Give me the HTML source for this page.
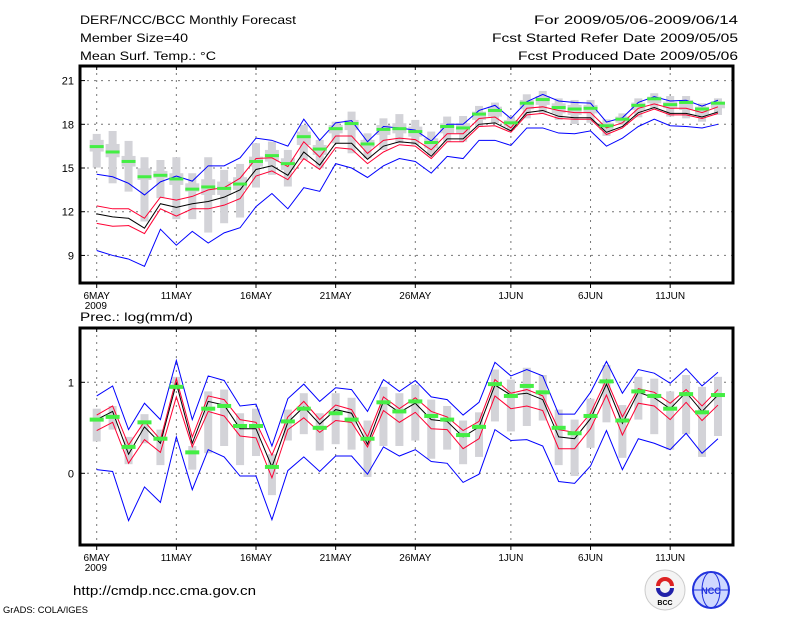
<!DOCTYPE html>
<html><head><meta charset="utf-8"><style>
body{margin:0;background:#fff;}
svg{display:block;font-family:"Liberation Sans",sans-serif;}
</style></head><body>
<svg id="chart" width="800" height="618" viewBox="0 0 800 618">
<g font-size="12" fill="#000">
<text x="80" y="24" textLength="216" lengthAdjust="spacingAndGlyphs">DERF/NCC/BCC Monthly Forecast</text>
<text x="80" y="42" textLength="108" lengthAdjust="spacingAndGlyphs">Member Size=40</text>
<text x="80" y="60" textLength="136" lengthAdjust="spacingAndGlyphs">Mean Surf. Temp.: °C</text>
<text x="738" y="24" text-anchor="end" textLength="204" lengthAdjust="spacingAndGlyphs">For 2009/05/06-2009/06/14</text>
<text x="738" y="42" text-anchor="end" textLength="246" lengthAdjust="spacingAndGlyphs">Fcst Started Refer Date 2009/05/05</text>
<text x="738" y="60" text-anchor="end" textLength="220" lengthAdjust="spacingAndGlyphs">Fcst Produced Date 2009/05/06</text>
<text x="80" y="321" font-size="12" textLength="113" lengthAdjust="spacingAndGlyphs">Prec.: log(mm/d)</text>
<text x="73" y="595" font-size="13" textLength="183" lengthAdjust="spacingAndGlyphs">http://cmdp.ncc.cma.gov.cn</text>
<text x="3" y="613" font-size="9" textLength="85" lengthAdjust="spacingAndGlyphs">GrADS: COLA/IGES</text>
</g>
<g>
<circle cx="665" cy="590" r="20" fill="#f4f4f4" stroke="#ccc"/>
<path d="M658 586 a7 7 0 1 1 14 0" fill="none" stroke="#d22" stroke-width="4"/>
<path d="M672 588 a7 7 0 1 1 -14 0" fill="none" stroke="#22a" stroke-width="4"/>
<text x="665" y="605" font-size="7" text-anchor="middle" font-weight="bold">BCC</text>
</g>
<g>
<circle cx="711" cy="590" r="18" fill="#cfd8ff" stroke="#2233dd" stroke-width="2"/>
<ellipse cx="711" cy="590" rx="9" ry="18" fill="none" stroke="#2233dd"/>
<line x1="693" y1="590" x2="729" y2="590" stroke="#2233dd"/>
<text x="711" y="594" font-size="9" text-anchor="middle" fill="#2233dd" font-weight="bold">NCC</text>
</g>
<g id="top"></g>
<g id="bot"></g>
</svg>
<script>
// ---- top panel data (temperature, °C) ----
const tBlueHi=[14.57,14.4,13.95,13.15,14.05,14.45,14.1,15.15,15.15,15.7,17.05,16.9,16.5,18.35,16.9,18.1,18.25,16.8,17.85,17.75,17.6,16.85,18.0,18.0,18.95,19.3,18.4,19.55,20.05,19.6,19.5,19.45,18.15,18.45,19.5,19.9,19.6,19.65,19.25,19.65];
const tRedHi=[12.4,12.2,12.2,11.55,13.0,12.8,13.05,13.5,13.65,14.3,15.65,15.7,15.1,16.8,15.75,17.2,17.2,16.0,16.9,17.05,16.95,16.25,17.35,17.35,18.4,18.5,17.75,19.1,19.2,18.95,18.8,18.8,17.75,18.1,19.1,19.4,19.1,19.1,18.8,19.2];
const tMean=[11.85,11.65,11.55,10.87,12.55,12.3,12.55,12.7,13.0,13.5,14.9,15.15,14.5,16.1,15.2,16.7,16.7,15.6,16.5,16.8,16.7,15.8,17.0,17.0,18.0,18.1,17.55,18.8,18.95,18.55,18.45,18.45,17.45,17.85,18.8,19.15,18.75,18.75,18.5,18.85];
const tRedLo=[11.2,11.0,11.05,10.5,12.2,11.7,12.2,12.2,12.45,12.9,14.45,14.8,14.2,15.65,14.9,16.4,16.3,15.3,16.1,16.6,16.5,15.65,16.8,16.8,17.85,17.9,17.45,18.65,18.75,18.4,18.35,18.35,17.3,17.75,18.65,19.05,18.65,18.65,18.4,18.75];
const tBlueLo=[9.34,9.0,8.75,8.25,10.8,9.7,10.65,9.85,10.55,10.9,12.35,13.25,12.2,13.65,13.4,15.3,15.0,14.35,15.15,15.65,15.45,14.65,15.8,15.65,16.9,16.9,16.55,17.75,17.75,17.4,17.35,17.55,16.5,17.05,17.85,18.35,17.9,17.85,17.75,18.0];
const tMedian=[16.47,16.1,15.45,14.4,14.5,14.25,13.55,13.7,13.6,13.9,15.45,15.85,15.3,17.15,16.3,17.7,18.05,16.65,17.65,17.7,17.5,16.75,17.85,17.75,18.7,18.95,18.1,19.45,19.7,19.15,19.05,19.1,17.9,18.35,19.3,19.75,19.35,19.5,19.05,19.45];
const tWhiskHi=[17.34,17.54,16.86,15.74,15.55,15.74,14.64,15.74,14.87,15.28,16.7,16.81,16.24,17.95,16.93,18.18,18.87,17.38,18.41,18.7,18.3,17.5,18.53,18.57,19.26,19.49,18.53,20.06,20.29,19.78,19.67,19.67,18.34,18.75,19.78,20.13,19.94,19.94,19.44,19.78];
const tWhiskLo=[15.03,13.95,13.38,11.33,12.93,11.49,11.49,10.57,11.21,11.6,13.66,14.53,13.73,15.55,14.98,16.7,16.01,15.67,16.24,16.7,16.58,15.9,16.81,16.81,17.84,18.07,17.61,18.41,18.75,18.3,18.02,18.11,17.2,17.95,18.48,19.1,18.53,18.41,18.18,18.64];
const tBoxHi=[16.93,16.65,15.83,14.98,14.8,14.64,13.95,14.23,14.07,14.37,15.78,16.24,15.67,17.5,16.58,17.95,18.3,16.93,17.95,18.07,17.84,17.04,18.07,18.07,18.87,19.21,18.3,19.67,19.94,19.44,19.33,19.33,18.11,18.53,19.49,19.9,19.55,19.67,19.21,19.55];
const tBoxLo=[16.13,15.74,15.1,14.18,14.3,13.84,13.38,13.15,13.15,13.5,15.1,15.44,14.87,16.58,15.9,17.38,17.6,16.42,17.27,17.38,17.15,16.35,17.38,17.38,18.3,18.53,17.84,19.03,19.33,18.75,18.64,18.75,17.61,18.11,18.98,19.44,19.1,18.98,18.64,19.1];
const tYTicks=[9,12,15,18,21];
// ---- bottom panel data (log precip) ----
const pBlueHi=[.85,.96,.48,.77,.59,1.24,.59,1.07,1.02,.74,.76,.30,.82,.98,.79,.94,.92,.68,1.03,.90,1.02,.84,.81,.64,.78,1.22,1.07,1.14,1.07,.65,.65,.89,1.23,.88,1.14,1.10,.99,1.15,.96,1.11];
const pRedHi=[.64,.74,.31,.57,.37,1.04,.40,.85,.81,.59,.56,.20,.62,.79,.59,.75,.70,.40,.84,.71,.83,.68,.62,.47,.57,1.03,.88,.92,.85,.48,.45,.66,1.03,.62,.93,.89,.77,.92,.74,.92];
const pMean=[.59,.68,.21,.51,.33,.99,.33,.79,.75,.49,.49,.07,.56,.73,.54,.70,.66,.32,.79,.67,.77,.59,.57,.40,.51,.97,.86,.88,.81,.40,.38,.60,.98,.55,.89,.83,.71,.89,.68,.86];
const pRedLo=[.47,.56,.11,.37,.23,.84,.29,.68,.63,.41,.39,-.05,.48,.61,.45,.58,.56,.29,.69,.56,.67,.49,.48,.27,.38,.85,.71,.74,.69,.27,.27,.49,.86,.42,.77,.74,.59,.78,.58,.75];
const pBlueLo=[.04,.02,-.52,-.15,-.32,.40,-.18,.26,.18,-.03,-.03,-.51,.03,.18,.02,.19,.19,-.01,.29,.19,.26,.13,.11,-.10,-.01,.48,.36,.37,.30,-.09,-.11,.08,.47,.04,.38,.33,.26,.44,.22,.38];
const pMedian=[.59,.62,.29,.56,.38,.95,.23,.71,.74,.52,.52,.07,.57,.71,.50,.66,.59,.38,.78,.68,.79,.63,.59,.42,.51,.98,.85,.96,.89,.50,.44,.63,1.01,.58,.90,.85,.71,.87,.67,.86];
const pBarHi=[.71,.74,.40,.65,.48,1.06,.30,.90,.92,.66,.71,.21,.70,.88,.66,.88,.83,.58,.95,.88,.97,.81,.74,.58,.67,1.14,1.03,1.16,1.08,.70,.59,.82,1.19,.75,1.06,1.04,.90,1.08,.95,1.06];
const pBarLo=[.35,.48,.10,.33,.09,.92,.04,.22,.30,.09,.19,-.24,.36,.43,.25,.32,.26,-.04,.30,.30,.36,.16,.26,.10,.18,.57,.46,.52,.58,.09,-.03,.28,.56,.17,.59,.43,.26,.43,.18,.41];
const pYTicks=[0,1];
// ---- date axis ----
const dateLabels=["6MAY","11MAY","16MAY","21MAY","26MAY","1JUN","6JUN","11JUN"];
const dateIdx=[0,5,10,15,20,26,31,36];

const NS="http://www.w3.org/2000/svg";
function mk(parent,tag,attrs){const e=document.createElementNS(NS,tag);for(const k in attrs)e.setAttribute(k,attrs[k]);parent.appendChild(e);return e;}
const xOf=d=>96.7+15.93*d;

function panel(g,top,bottom,yScale,ticks,fmt,opts){
  const L=80,R=733;
  ticks.forEach(v=>{const y=yScale(v);
    const gl=mk(g,'line',{x1:L,x2:R,y1:y,y2:y,stroke:'#777','stroke-dasharray':'2,5'});
    
    
    const t=mk(g,'text',{x:L-6,y:y+4,'text-anchor':'end','font-size':11});
    t.textContent=fmt(v);
    
    
    mk(g,'line',{x1:L,x2:L+5,y1:y,y2:y,stroke:'#000'});
  });
  dateIdx.forEach((d,i)=>{const x=xOf(d);
    const gl=mk(g,'line',{x1:x,x2:x,y1:top,y2:bottom,stroke:'#777','stroke-dasharray':'2,5'});
    
    
    mk(g,'line',{x1:x,x2:x,y1:bottom,y2:bottom+5,stroke:'#000'});
    mk(g,'line',{x1:x,x2:x,y1:top,y2:top+4,stroke:'#000'});
    const t=mk(g,'text',{x:x,y:bottom+16,'text-anchor':'middle','font-size':10});
    t.textContent=dateLabels[i];
    
    
  });
  const yr=mk(g,'text',{x:xOf(0)-12,y:bottom+26,'font-size':10});
  yr.textContent='2009';
  
  
  for(let d=0;d<40;d++){const x=xOf(d);
    const w=mk(g,'rect',{x:x-4,width:8,y:yScale(opts.wHi[d]),height:yScale(opts.wLo[d])-yScale(opts.wHi[d]),fill:'#d3d3d8'});
    
    
    if(opts.bHi){const b=mk(g,'rect',{x:x-7,width:14,y:yScale(opts.bHi[d]),height:yScale(opts.bLo[d])-yScale(opts.bHi[d]),fill:'#d3d3d8'});
      
      }
  }
  const series=[[opts.blueHi,'#0000ff','upper-bound-line'],[opts.blueLo,'#0000ff','lower-bound-line'],[opts.redHi,'#ff0033','upper-spread-line'],[opts.redLo,'#ff0033','lower-spread-line'],[opts.mean,'#000','ensemble-mean-line']];
  series.forEach(s=>{const p=mk(g,'polyline',{points:s[0].map((v,d)=>xOf(d)+','+yScale(v)).join(' '),fill:'none',stroke:s[1],'stroke-width':1});
    
    });
  for(let d=0;d<40;d++){const y=yScale(opts.med[d]);
    const m=mk(g,'rect',{x:xOf(d)-7,width:14,y:y-opts.mh/2,height:opts.mh,fill:'#44ee44'});
    
    }
  const f=mk(g,'rect',{x:L,y:top,width:R-L,height:bottom-top,fill:'none',stroke:'#000','stroke-width':3});
  
  
}
const yTop=v=>124.3-(v-18)*14.57;
const yBot=v=>473.3-v*91;
panel(document.getElementById('top'),66,283,yTop,tYTicks,v=>String(v),
  {wHi:tWhiskHi,wLo:tWhiskLo,bHi:tBoxHi,bLo:tBoxLo,blueHi:tBlueHi,blueLo:tBlueLo,redHi:tRedHi,redLo:tRedLo,mean:tMean,med:tMedian,mh:3});
panel(document.getElementById('bot'),328,545,yBot,pYTicks,v=>String(v),
  {wHi:pBarHi,wLo:pBarLo,blueHi:pBlueHi,blueLo:pBlueLo,redHi:pRedHi,redLo:pRedLo,mean:pMean,med:pMedian,mh:4});
document.getElementById('top');
document.getElementById('top');
document.getElementById('bot');
document.getElementById('bot');
</script>
</body></html>
